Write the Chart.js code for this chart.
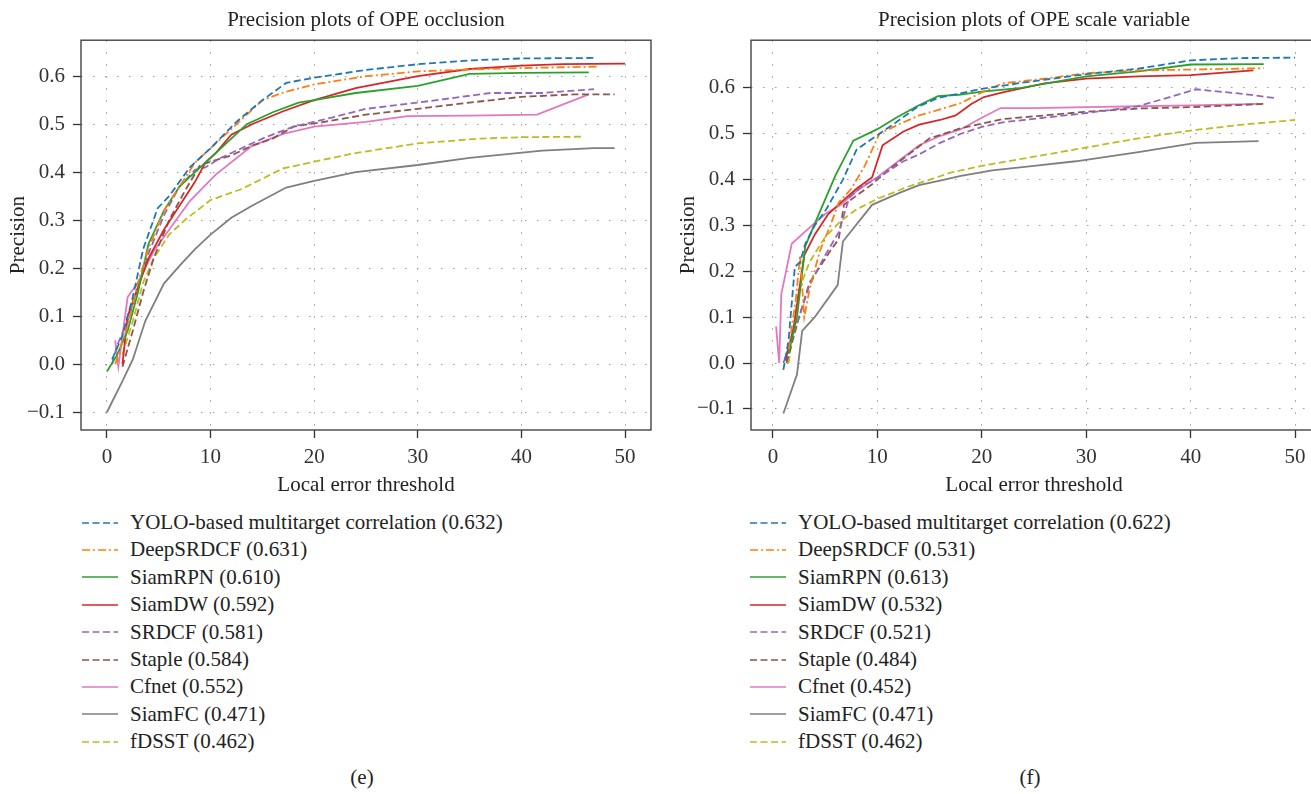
<!DOCTYPE html>
<html>
<head>
<meta charset="utf-8">
<script src="https://cdn.jsdelivr.net/npm/chart.js@4.4.0/dist/chart.umd.min.js"></script>
<style>
  body { margin: 0; width: 1311px; height: 794px; overflow: hidden; background: #fff; position: relative;
         font-family: 'Liberation Serif', 'DejaVu Serif', serif; color: #222; }
  .panel { position: absolute; top: 0; height: 500px; }
  .legend { position: absolute; top: 509px; font-size: 21px; line-height: 27.4px; }
  .legend .row { display: flex; align-items: center; height: 27.4px; white-space: nowrap; }
  .legend svg { width: 36px; height: 10px; margin-right: 12px; flex: none; }
  .caption { position: absolute; top: 765px; font-size: 21px; transform: translateX(-50%); }
</style>
</head>
<body>
<div class="panel" style="left:0;width:660px"><canvas id="occChart"></canvas></div>
<div class="panel" style="left:660px;width:670px"><canvas id="scaleChart"></canvas></div>
<div class="legend" id="occLegend" style="left:82px"></div>
<div class="legend" id="scaleLegend" style="left:750px"></div>
<div class="caption" style="left:362px">(e)</div>
<div class="caption" style="left:1030px">(f)</div>

<script>
// ── data ────────────────────────────────────────────────────────────
const trackers = ['YOLO-based multitarget correlation', 'DeepSRDCF', 'SiamRPN', 'SiamDW',
                  'SRDCF', 'Staple', 'Cfnet', 'SiamFC', 'fDSST'];
const occScores   = ['0.632', '0.631', '0.610', '0.592', '0.581', '0.584', '0.552', '0.471', '0.462'];
const scaleScores = ['0.622', '0.531', '0.613', '0.532', '0.521', '0.484', '0.452', '0.471', '0.462'];

const xTicks = [0, 10, 20, 30, 40, 50];
const yTicks = [-0.1, 0, 0.1, 0.2, 0.3, 0.4, 0.5, 0.6];

// occlusion: [threshold, precision]
const occYolo   = [[0.5,0.01],[1.5,0.06],[2.5,0.14],[3.5,0.24],[4.9,0.325],[6,0.35],[8,0.41],[10,0.45],[12.5,0.505],[15,0.55],[17.3,0.586],[20,0.597],[25,0.613],[30,0.625],[35,0.633],[40,0.637],[47,0.638]];
const occDeep   = [[0.8,0.0],[2,0.08],[3,0.17],[4,0.24],[5.5,0.32],[7,0.37],[8.5,0.42],[10,0.45],[12,0.49],[13.5,0.52],[15,0.55],[17.3,0.568],[20,0.583],[25,0.6],[30,0.61],[35,0.614],[40,0.617],[47.5,0.62]];
const occRpn    = [[0,-0.015],[1,0.02],[2,0.07],[3,0.15],[4,0.25],[5.5,0.32],[7,0.37],[8.5,0.4],[10,0.43],[12,0.47],[13.5,0.5],[16,0.525],[18.5,0.545],[20,0.55],[24,0.565],[30,0.58],[35,0.605],[40,0.607],[46.5,0.608]];
const occDw     = [[1.5,0.0],[2,0.1],[3,0.16],[4,0.22],[5.5,0.28],[7,0.33],[8.5,0.38],[9.5,0.42],[10.5,0.44],[12,0.478],[14,0.5],[17,0.527],[20,0.55],[24,0.575],[30,0.6],[35,0.615],[40,0.622],[44,0.625],[50,0.626]];
const occSrdcf  = [[0.5,0.0],[1,0.04],[2,0.09],[3,0.16],[4,0.23],[5.5,0.31],[7,0.37],[8.5,0.405],[9.5,0.41],[11,0.43],[13,0.45],[15,0.47],[18,0.495],[21,0.51],[25,0.532],[30,0.545],[37,0.565],[42,0.565],[47,0.573]];
const occStaple = [[1.5,-0.005],[2.5,0.07],[3.5,0.15],[4.5,0.22],[6,0.3],[7.5,0.36],[9,0.415],[10.5,0.425],[12,0.435],[14,0.455],[16,0.47],[18,0.495],[21,0.505],[25,0.52],[30,0.532],[35,0.545],[40,0.557],[45,0.562],[49,0.562]];
const occCfnet  = [[0.8,0.05],[1.1,-0.005],[2,0.14],[3,0.17],[4.5,0.235],[6,0.28],[8,0.34],[10.5,0.395],[14,0.455],[17,0.48],[20,0.495],[25,0.505],[29,0.517],[35,0.518],[41.5,0.52],[46.5,0.562]];
const occSiamfc = [[0,-0.1],[1.5,-0.035],[2.5,0.01],[3.7,0.09],[5.5,0.168],[7,0.205],[8.5,0.24],[10,0.27],[12,0.305],[14,0.33],[17.3,0.368],[20,0.382],[24,0.4],[30,0.415],[35,0.43],[42,0.445],[47,0.45],[49,0.45]];
const occFdsst  = [[1.5,0.02],[2.5,0.09],[3.5,0.17],[4.5,0.22],[6,0.27],[7.5,0.3],[10,0.342],[13,0.365],[17,0.408],[20,0.422],[24,0.44],[30,0.46],[36,0.47],[40,0.473],[46,0.474]];

// scale variation
const scaYolo   = [[1,-0.015],[1.5,0.05],[2.1,0.21],[2.6,0.22],[3.1,0.26],[4,0.3],[5.1,0.335],[6.7,0.4],[8,0.465],[10,0.497],[11.8,0.525],[13.8,0.558],[15.8,0.578],[20,0.598],[23.8,0.611],[30,0.63],[35,0.642],[40,0.66],[44.8,0.665],[50,0.666]];
const scaDeep   = [[1.5,0.03],[2.2,0.14],[2.6,0.235],[3,0.1],[3.5,0.16],[4.5,0.245],[5.5,0.3],[6.3,0.35],[7.5,0.38],[8.8,0.43],[10.2,0.5],[12,0.52],[14,0.54],[16,0.553],[18,0.567],[20,0.59],[22,0.61],[26,0.62],[30,0.632],[35,0.638],[40,0.64],[47,0.643]];
const scaRpn    = [[1.5,0.02],[2.3,0.1],[3.1,0.255],[4.5,0.33],[6,0.41],[7.7,0.485],[10,0.51],[11.8,0.535],[13.8,0.56],[15.8,0.582],[17.8,0.585],[20,0.592],[23.8,0.6],[30,0.625],[35,0.636],[40,0.651],[47,0.652]];
const scaDw     = [[1.2,0.005],[2,0.08],[3,0.235],[4,0.28],[5.3,0.325],[6.5,0.35],[8,0.38],[9.5,0.405],[10.5,0.475],[12.5,0.505],[14,0.52],[16,0.53],[17.5,0.54],[19,0.565],[20.2,0.58],[22,0.59],[26,0.61],[30,0.62],[35,0.625],[40,0.628],[46,0.638]];
const scaSrdcf  = [[1,0.0],[2.5,0.1],[3.5,0.17],[5,0.235],[6.3,0.285],[7.3,0.36],[8.5,0.385],[10.5,0.41],[12.5,0.44],[14,0.455],[16,0.48],[18,0.5],[20,0.515],[22,0.525],[26,0.535],[30,0.545],[35,0.56],[40.5,0.597],[45,0.587],[48,0.578]];
const scaStaple = [[1.3,0.0],[2.5,0.1],[3.5,0.175],[5.5,0.245],[6.3,0.27],[6.8,0.345],[8,0.365],[9.5,0.39],[11,0.42],[13,0.455],[15,0.49],[18,0.512],[20,0.522],[22,0.532],[26,0.54],[30,0.548],[35,0.555],[40,0.558],[47,0.565]];
const scaCfnet  = [[0.3,0.08],[0.6,0.0],[0.8,0.15],[1.8,0.26],[3,0.285],[5,0.325],[6.5,0.345],[8,0.375],[10,0.405],[12,0.44],[14,0.475],[16,0.495],[18,0.51],[20,0.535],[21.8,0.556],[25,0.556],[30,0.558],[35,0.56],[40,0.562],[46.5,0.565]];
const scaSiamfc = [[1,-0.11],[2.3,-0.025],[2.8,0.07],[4,0.1],[6.2,0.17],[6.7,0.265],[9.5,0.345],[12,0.37],[14,0.388],[16,0.398],[18,0.408],[21,0.42],[25,0.43],[29,0.44],[35,0.46],[40.5,0.48],[46.5,0.484]];
const scaFdsst  = [[1.5,0.0],[2.5,0.16],[3.5,0.22],[5,0.275],[6.5,0.31],[8,0.335],[10,0.358],[13,0.385],[17,0.415],[20,0.43],[25,0.45],[30,0.47],[35,0.49],[40,0.507],[45,0.52],[50,0.53]];

// ── styles ──────────────────────────────────────────────────────────
const DASH = [7, 3.5];
const DASHDOT = [8, 3, 2, 3];
const COLORS = ['#1f77b4', '#ff7f0e', '#2ca02c', '#d62728', '#9467bd', '#8c564b', '#e377c2', '#7f7f7f', '#bcbd22'];
const DASHES = [DASH, DASHDOT, [], [], DASH, DASH, [], [], DASH];
const FONT = "'Liberation Serif', 'DejaVu Serif', serif";
const INK = '#333';

const framePlugin = {
  id: 'frame',
  afterDraw(chart) {
    const { ctx, chartArea: a } = chart;
    ctx.save();
    ctx.strokeStyle = '#444';
    ctx.lineWidth = 1.4;
    ctx.strokeRect(a.left, a.top, a.right - a.left, a.bottom - a.top);
    ctx.restore();
  }
};

function fmtTick(v) {
  return v.toFixed(1).replace('-', '\u2212');
}

function buildChart(id, series, o) {
  const datasets = series.map((pts, i) => ({
    label: trackers[i],
    data: pts.map(p => ({ x: p[0], y: p[1] })),
    borderColor: COLORS[i],
    borderDash: DASHES[i],
    borderWidth: 1.8,
    pointRadius: 0,
    showLine: true,
    fill: false,
    tension: 0,
  }));
  const grid = { color: '#999', lineWidth: 1, tickLength: 8, tickColor: INK, tickWidth: 1.3 };
  const border = { display: false, dash: [1.5, 10.5] };
  return new Chart(document.getElementById(id), {
    type: 'scatter',
    data: { datasets },
    options: {
      responsive: true,
      maintainAspectRatio: false,
      animation: false,
      layout: { padding: { left: 0, right: o.padRight, top: 0, bottom: 0 } },
      plugins: {
        legend: { display: false },
        tooltip: { enabled: false },
        title: {
          display: true, text: o.title, fullSize: false, color: '#222',
          font: { family: FONT, size: 21, weight: 'normal' },
          padding: { top: 8, bottom: 7 }
        }
      },
      scales: {
        x: {
          type: 'linear', min: o.xMin, max: o.xMax,
          afterBuildTicks: s => { s.ticks = xTicks.map(v => ({ value: v })); },
          afterFit: s => { s.height = 70; },
          grid, border,
          ticks: { color: INK, padding: 7, font: { family: FONT, size: 21 }, callback: v => String(v) },
          title: { display: true, text: 'Local error threshold', color: '#222',
                   font: { family: FONT, size: 21 }, padding: { top: 0, bottom: 2 } }
        },
        y: {
          type: 'linear', min: o.yMin, max: o.yMax,
          afterBuildTicks: s => { s.ticks = yTicks.map(v => ({ value: v })); },
          afterFit: s => { s.width = o.yWidth; },
          grid, border,
          ticks: { color: INK, padding: o.yPad, font: { family: FONT, size: 21 }, callback: fmtTick },
          title: { display: true, text: 'Precision', color: '#222',
                   font: { family: FONT, size: 21 }, padding: { top: o.yTitlePad, bottom: 0 } }
        }
      }
    },
    plugins: [framePlugin]
  });
}

function buildLegend(id, scores) {
  const el = document.getElementById(id);
  el.innerHTML = trackers.map((name, i) =>
    `<div class="row"><svg viewBox="0 0 36 10"><line x1="0" y1="5" x2="36" y2="5" stroke="${COLORS[i]}"
       stroke-width="1.6" stroke-dasharray="${DASHES[i].join(' ') || 'none'}"/></svg>` +
    `<span>${name} (${scores[i]})</span></div>`).join('');
}

buildChart('occChart',
  [occYolo, occDeep, occRpn, occDw, occSrdcf, occStaple, occCfnet, occSiamfc, occFdsst],
  { title: 'Precision plots of OPE occlusion', xMin: -2.5, xMax: 52.5, yMin: -0.137, yMax: 0.675,
    yWidth: 81, padRight: 9, yPad: 8, yTitlePad: 6 });

buildChart('scaleChart',
  [scaYolo, scaDeep, scaRpn, scaDw, scaSrdcf, scaStaple, scaCfnet, scaSiamfc, scaFdsst],
  { title: 'Precision plots of OPE scale variable', xMin: -2.1, xMax: 52.1, yMin: -0.146, yMax: 0.704,
    yWidth: 91, padRight: 13, yPad: 8, yTitlePad: 16 });

buildLegend('occLegend', occScores);
buildLegend('scaleLegend', scaleScores);
</script>
</body>
</html>
